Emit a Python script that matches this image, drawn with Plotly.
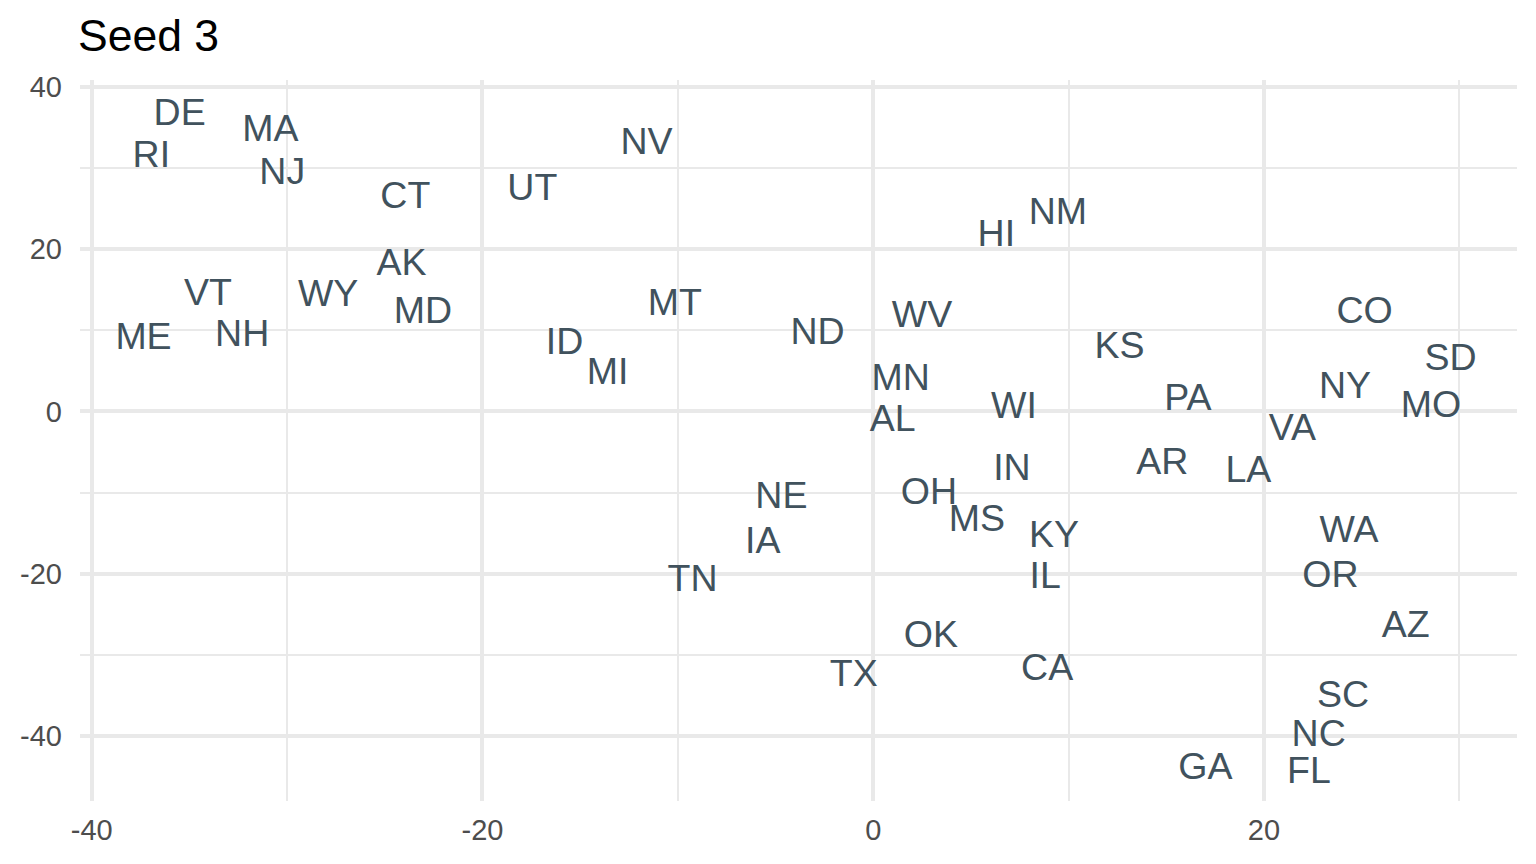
import plotly.graph_objects as go

states = ["DE","RI","MA","NJ","CT","UT","NV","NM","HI","AK","VT","WY","MD","ME","NH","ID","MI","MT","ND","WV","CO","SD","KS","MN","AL","WI","PA","NY","MO","VA","AR","LA","IN","OH","NE","MS","KY","WA","IA","TN","IL","OR","AZ","OK","CA","TX","SC","NC","GA","FL"]
x_values = [-35.5,-36.95,-30.85,-30.25,-23.95,-17.45,-11.6,9.45,6.3,-24.15,-34.05,-27.9,-23.05,-37.35,-32.3,-15.8,-13.6,-10.15,-2.85,2.5,25.15,29.55,12.6,1.4,1.0,7.2,16.1,24.15,28.55,21.45,14.8,19.2,7.1,2.85,-4.7,5.3,9.25,24.35,-5.65,-9.25,8.8,23.4,27.25,2.95,8.9,-1.0,24.05,22.8,17.0,22.3]
y_values = [36.4,31.2,34.4,29.1,26.2,27.2,32.8,24.2,21.5,18.0,14.3,14.1,12.0,8.8,9.2,8.2,4.5,13.0,9.4,11.5,12.0,6.3,7.7,3.8,-1.2,0.4,1.3,2.8,0.5,-2.4,-6.6,-7.6,-7.3,-10.3,-10.8,-13.6,-15.6,-14.9,-16.3,-21.0,-20.6,-20.5,-26.6,-27.9,-31.9,-32.7,-35.2,-40.0,-44.1,-44.6]
major_x = [-40,-20,0,20]
minor_x = [-30,-10,10,30]
major_y = [-40,-20,0,20,40]
minor_y = [-30,-10,10,30]

GRID = "#E9E9E9"
fig = go.Figure(go.Scatter(
    x=x_values, y=y_values, text=states, mode="text",
    textposition="middle center",
    textfont=dict(family="Liberation Sans", size=37.5, color="#41525D"),
    hoverinfo="text", cliponaxis=False,
))
fig.update_layout(
    width=1528, height=856, autosize=False,
    margin=dict(l=69.8, r=19.3, t=72, b=63),
    paper_bgcolor="white", plot_bgcolor="white",
    showlegend=False,
    title=dict(text="Seed 3", x=70/1528, xanchor="left", y=1-27.5/856, yanchor="middle",
               font=dict(family="Liberation Sans", size=44.5, color="black")),
)
fig.update_xaxes(range=[-40.6, 32.95], tickvals=major_x, ticktext=[str(v) for v in major_x],
    showgrid=True, gridcolor=GRID, gridwidth=3.6, zeroline=False, showline=False,
    ticks="", ticklabelstandoff=9,
    tickfont=dict(family="Liberation Sans", size=29, color="#4D4D4D"),
    minor=dict(tickvals=minor_x, showgrid=True, gridcolor=GRID, gridwidth=1.8, ticks=""))
fig.update_yaxes(range=[-47.97, 40.8], tickvals=major_y, ticktext=[str(v) for v in major_y],
    showgrid=True, gridcolor=GRID, gridwidth=3.6, zeroline=False, showline=False,
    ticks="", ticklabelstandoff=17,
    tickfont=dict(family="Liberation Sans", size=29, color="#4D4D4D"),
    minor=dict(tickvals=minor_y, showgrid=True, gridcolor=GRID, gridwidth=1.8, ticks=""))
fig.write_html("out.html")
